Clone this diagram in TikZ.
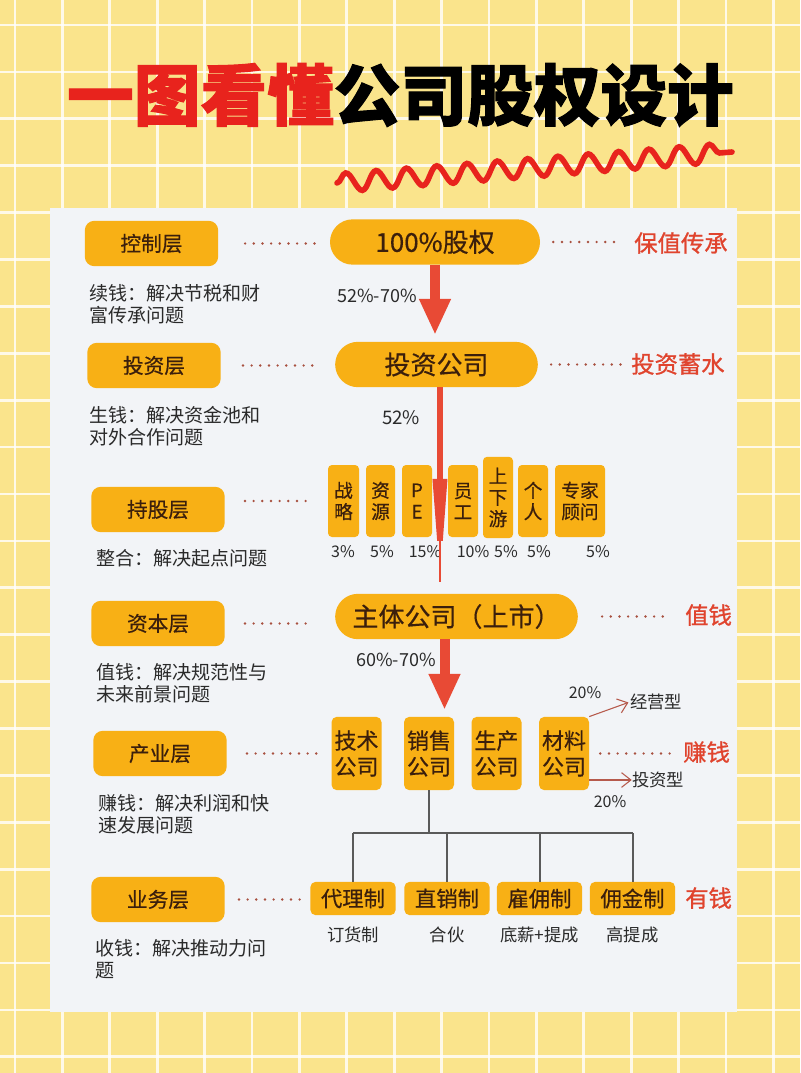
\documentclass[tikz,border=0pt]{standalone}
\usepackage{fontspec}
\setmainfont{Noto Sans CJK SC}
\newfontfamily\titlefont[BoldFeatures={FakeBold=1.5}]{Noto Sans CJK SC}
\newfontfamily\medfont[FakeBold=0.5]{Noto Sans CJK SC}
\newfontfamily\goalfont[FakeBold=1]{Noto Sans CJK SC}
\usetikzlibrary{arrows.meta,decorations.pathmorphing}

\definecolor{bgyellow}{HTML}{FAE48C}
\definecolor{panelgray}{HTML}{F2F4F7}
\definecolor{boxorange}{HTML}{F8B015}
\definecolor{boxtext}{HTML}{3B1F0C}
\definecolor{labelred}{HTML}{E0442E}
\definecolor{arrowred}{HTML}{E84A35}
\definecolor{titlered}{HTML}{E8231D}
\definecolor{dotred}{HTML}{A8503F}
\definecolor{treegray}{HTML}{5A5A5A}
\definecolor{textdark}{HTML}{2A2A2A}
\definecolor{thinred}{HTML}{B65A4C}

\begin{document}
\begin{tikzpicture}[x=0.75pt,y=-0.75pt,
  gridline/.style={white,line width=2pt,opacity=0.8},
  wave/.style={draw=titlered,line width=4.2pt,line cap=round,decorate,
    decoration={snake,segment length=22.8pt,amplitude=7pt}},
  layer/.style={fill=boxorange,rounded corners=7pt,minimum width=100pt,minimum height=34pt,
    text=boxtext,font=\medfont\fontsize{15.5}{18}\selectfont},
  pill/.style={fill=boxorange,rounded corners=17pt,minimum height=34pt,
    text=boxtext,font=\medfont\fontsize{19.5}{22}\selectfont},
  desc/.style={anchor=west,align=left,inner sep=0pt,text=textdark,font=\fontsize{14.3}{16.5}\selectfont},
  holder/.style={fill=boxorange,rounded corners=3pt,inner sep=0pt,align=center,
    text=boxtext,font=\medfont\fontsize{14}{16}\selectfont},
  company/.style={fill=boxorange,rounded corners=4pt,minimum width=37.5pt,minimum height=55pt,
    inner sep=0pt,align=center,text=boxtext,font=\medfont\fontsize{16.5}{19.5}\selectfont},
  channel/.style={fill=boxorange,rounded corners=4pt,minimum width=64pt,minimum height=25pt,
    inner sep=0pt,text=boxtext,font=\medfont\fontsize{16}{18}\selectfont},
  note/.style={text=textdark,inner sep=0pt,font=\fontsize{13}{15}\selectfont},
  pct/.style={text=textdark,inner sep=0pt,font=\fontsize{12}{13}\selectfont},
  goal/.style={anchor=west,text=labelred,inner sep=0pt,font=\goalfont\fontsize{17.5}{20}\selectfont},
  dotline/.style={dotred,line width=2pt,line cap=round,dash pattern=on 0pt off 6.5pt},
  bigarrow/.style={arrowred,line width=7.5pt,-{Triangle[length=27pt,width=22pt]}},
  thinarrow/.style={thinred,line width=0.8pt,-{Straight Barb[length=7pt,width=11pt]}},
  tree/.style={treegray,line width=1.5pt},
]
\useasboundingbox (0,0) rectangle (800,1073);

% background grid
\fill[bgyellow] (0,0) rectangle (800,1073);
\foreach \gx in {0,...,16}
  \draw[gridline] ({15+47.4*\gx},0) -- ++(0,1073);
\foreach \gy in {0,...,22}
  \draw[gridline] (0,{25+46.9*\gy}) -- ++(800,0);

% title
\node[font=\titlefont\bfseries\fontsize{50}{55}\selectfont] (title) at (400.5,95)
  {\textcolor{titlered}{一图看懂}公司股权设计};
\coordinate (wavestart) at (337,183);
\coordinate (waveend) at (732,152);
\draw[wave] (wavestart) -- (waveend);

% panel
\fill[panelgray] (50,208) rectangle (737,1012);

% layers
\foreach \nm/\lx/\ly/\txt in {ctrl/151.5/243.5/控制层, invest/154/365.5/投资层,
    hold/158/509.5/持股层, capital/158/623.5/资本层,
    industry/160/753.5/产业层, business/158/899.5/业务层}
  \node[layer] (\nm) at (\lx,\ly) {\txt};

\node[desc] (d1) at (89,304) {续钱：解决节税和财\\富传承问题};
\node[desc] (d2) at (89,426) {生钱：解决资金池和\\对外合作问题};
\node[desc] (d3) at (96,558) {整合：解决起点问题};
\node[desc] (d4) at (96,683) {值钱：解决规范性与\\未来前景问题};
\node[desc] (d5) at (98,814) {赚钱：解决利润和快\\速发展问题};
\node[desc] (d6) at (95,959) {收钱：解决推动力问\\题};

% main column
\node[pill,minimum width=157.5pt] (equity) at (435,242) {100\%股权};
\node[pill,minimum width=152pt] (invco) at (436.5,364.5) {投资公司};
\node[pill,minimum width=182pt] (mainco) at (456.5,616.5) {主体公司（上市）};

\node[goal] (keep) at (634,243) {保值传承};
\node[goal] (save) at (631,364) {投资蓄水};
\node[goal] (worth) at (685,615) {值钱};
\node[goal] (earn) at (683,752) {赚钱};
\node[goal] (rich) at (685,898) {有钱};

% shareholders
\foreach \nm/\hx/\hy/\hw/\hh/\txt in {h1/343.5/501/23.25/54/{战\\略},
    h2/380.5/501/21.75/54/{资\\源}, h3/417/501/22.5/54/{P\\E},
    h4/463/501/22.5/54/{员\\工}, h5/498/497.5/22.5/61/{上\\下\\游},
    h6/533/501/22.5/54/{个\\人}, h7/580/501/37.5/54/{专家\\顾问}}
  \node[holder,minimum width=\hw pt,minimum height=\hh pt] (\nm) at (\hx,\hy) {\txt};
\foreach \px/\pv [count=\i] in {343/3, 382/5, 425/15, 473/10, 506/5, 539/5, 598/5}
  \node[pct] (pc\i) at (\px,552) {\pv\%};

% companies
\foreach \nm/\cx/\txt in {tech/356.5/技术, sales/429/销售, prod/496.5/生产, mat/564/材料}
  \node[company] (\nm) at (\cx,753.5) {\txt\\公司};
\node[note] (op) at (656,702) {经营型};
\node[note] (inv) at (658,780) {投资型};
\node[pct] (q1) at (585,693) {20\%};
\node[pct] (q2) at (610,802) {20\%};

% channels
\foreach \nm/\cx/\txt/\sub in {agent/353/代理制/订货制, direct/447/直销制/合伙,
    hire/539.5/雇佣制/底薪+提成, commission/632.5/佣金制/高提成}
{
  \node[channel] (\nm) at (\cx,898.5) {\txt};
  \node[note] (\nm-note) at (\cx,935) {\sub};
}

% percentages on the arrows
\node[note,font=\fontsize{13.5}{15}\selectfont] (r1) at (377,296) {52\%-70\%};
\node[note,font=\fontsize{14}{15}\selectfont] (r2) at (401,418) {52\%};
\node[note,font=\fontsize{13.5}{15}\selectfont] (r3) at (396,660) {60\%-70\%};

% dotted leaders
\draw[dotline,shorten <=20pt,shorten >=11pt] (ctrl.east) -- (ctrl.east -| equity.west);
\draw[dotline,shorten <=16.5pt,shorten >=15pt] (invest.east) -- (invest.east -| invco.west);
\draw[dotline,shorten <=15pt,shorten >=10.5pt] (hold.east |- h1) -- (h1.west);
\draw[dotline,shorten <=15pt,shorten >=15.75pt] (capital.east) -- (capital.east -| mainco.west);
\draw[dotline,shorten <=15pt,shorten >=10pt] (industry.east) -- (industry.east -| tech.west);
\draw[dotline,shorten <=10.5pt,shorten >=1.5pt] (business.east) -- (business.east -| agent.west);
\draw[dotline,shorten <=9.75pt,shorten >=12pt] (equity.east) -- (equity.east -| keep.west);
\draw[dotline,shorten <=9.75pt,shorten >=6.75pt] (invco.east) -- (invco.east -| save.west);
\draw[dotline,shorten <=18pt,shorten >=10.5pt] (mainco.east) -- (mainco.east -| worth.west);
\draw[dotline,shorten <=8.25pt,shorten >=8.25pt] (mat.east) -- (mat.east -| earn.west);

% arrows
\draw[bigarrow,shorten >=5pt] (equity.south) -- (equity.south |- invco.north);
\draw[arrowred,line width=1.8pt,shorten >=9pt]
  ([xshift=2.6pt]invco.south) -- ([xshift=2.6pt]invco.south |- mainco.north);
\draw[arrowred,line width=4.2pt,-{Triangle[length=80pt,width=10pt]},shorten >=6pt]
  ([xshift=2.6pt]invco.south) -- ([xshift=2.6pt]invco.south |- mainco.north);
\draw[bigarrow,shorten >=5pt] ([xshift=-9pt]mainco.south) -- ([xshift=-9pt]mainco.south |- sales.north);
\draw[thinarrow,shorten >=1pt] (mat.north east) -- (op.west);
\draw[thinarrow] (mat.east |- inv) -- (inv.west);

% tree
\coordinate (bus) at (0,833);
\draw[tree] (sales.south) -- (sales.south |- bus);
\draw[tree] (agent.north |- bus) -- (commission.north |- bus);
\foreach \nm in {agent,direct,hire,commission}
  \draw[tree] (\nm.north |- bus) -- (\nm.north);

\end{tikzpicture}
\end{document}
